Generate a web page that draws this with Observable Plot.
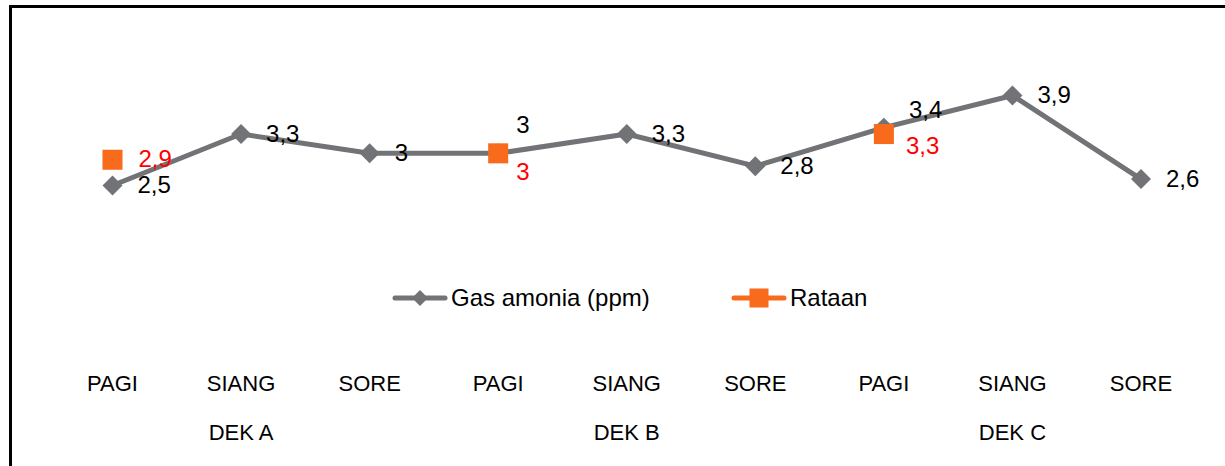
<!DOCTYPE html>
<html>
<head>
<meta charset="utf-8">
<script src="https://cdn.jsdelivr.net/npm/d3@7"></script>
<script src="https://cdn.jsdelivr.net/npm/@observablehq/plot@0.6"></script>
<style>
  body { margin: 0; background: #fff; }
  #wrap { position: relative; width: 1225px; height: 466px; overflow: hidden; font-family: "Liberation Sans", Arial, sans-serif; }
  #frame { position: absolute; left: 9px; top: 5px; right: -10px; bottom: -10px; border-left: 3px solid #000; border-top: 3px solid #000; pointer-events: none; }
  .leg { position: absolute; top: 283px; height: 30px; display: flex; align-items: center; font-size: 24px; color: #000; white-space: nowrap; }
  .leg svg { display: block; margin-right: 3px; }
  #chart { position: absolute; left: 0; top: 0; }
</style>
</head>
<body>
<div id="wrap">
  <div id="chart"></div>
  <div id="frame"></div>
  <div class="leg" style="left:392px">
    <svg width="56" height="30"><line x1="3" y1="15" x2="53" y2="15" stroke="#727376" stroke-width="5" stroke-linecap="round"/><path d="M28 7 L36 15 L28 23 L20 15 Z" fill="#727376"/></svg>
    <span>Gas amonia (ppm)</span>
  </div>
  <div class="leg" style="left:731px">
    <svg width="56" height="30"><line x1="3" y1="15" x2="53" y2="15" stroke="#F86A1C" stroke-width="5" stroke-linecap="round"/><rect x="18.5" y="5.5" width="19" height="19" fill="#F86A1C"/></svg>
    <span>Rataan</span>
  </div>
</div>
<script>
const categories = ["PAGI", "SIANG", "SORE", "PAGI", "SIANG", "SORE", "PAGI", "SIANG", "SORE"];
const groups = ["DEK A", "DEK A", "DEK A", "DEK B", "DEK B", "DEK B", "DEK C", "DEK C", "DEK C"];
const gasAmonia = [2.5, 3.3, 3.0, 3.0, 3.3, 2.8, 3.4, 3.9, 2.6];
const rataan = [2.9, null, null, 3.0, null, null, 3.3, null, null];

const GRAY = "#727376", ORANGE = "#F86A1C", RED = "#FF0000";
const fmt = v => String(v).replace(".", ",");

const rows = categories.map((c, i) => ({i, cat: c, group: groups[i], gas: gasAmonia[i], rat: rataan[i]}));
const ratRows = rows.filter(d => d.rat != null);
const groupTicks = rows.filter(d => d.cat === "SIANG").map(d => d.i);

const labelFont = {fontSize: 24, textAnchor: "start", lineAnchor: "middle"};

const chart = Plot.plot({
  width: 1225,
  height: 466,
  marginTop: 56.4,
  marginBottom: 120.3,
  marginLeft: 0,
  marginRight: 0,
  style: {fontFamily: "'Liberation Sans', Arial, sans-serif", background: "transparent", color: "#000"},
  x: {type: "point", domain: rows.map(d => d.i), range: [112, 1140.5], padding: 0, round: false, label: null},
  y: {domain: [0, 4.5], axis: null},
  marks: [
    Plot.axisX({tickSize: 0, tickPadding: 28.7, tickFormat: i => categories[i], fontSize: 22, label: null}),
    Plot.axisX(groupTicks, {tickSize: 0, tickPadding: 78, tickFormat: i => groups[i], fontSize: 22, label: null}),
    Plot.line(rows, {x: "i", y: "gas", stroke: GRAY, strokeWidth: 5}),
    Plot.dot(rows, {x: "i", y: "gas", symbol: "diamond2", r: 9, fill: GRAY}),
    Plot.dot(ratRows, {x: "i", y: "rat", symbol: "square", r: 11.3, fill: ORANGE}),
    // gray value labels
    Plot.text(rows.filter(d => d.i !== 3 && d.i !== 6), {x: "i", y: "gas", text: d => fmt(d.gas), fill: "#000", dx: 25, ...labelFont}),
    Plot.text(rows.filter(d => d.i === 3), {x: "i", y: "gas", text: d => fmt(d.gas), fill: "#000", dx: 18, dy: -28, ...labelFont}),
    Plot.text(rows.filter(d => d.i === 6), {x: "i", y: "gas", text: d => fmt(d.gas), fill: "#000", dx: 25, dy: -17, ...labelFont}),
    // red average labels
    Plot.text(ratRows.filter(d => d.i === 0), {x: "i", y: "rat", text: d => fmt(d.rat), fill: RED, dx: 26, ...labelFont}),
    Plot.text(ratRows.filter(d => d.i === 3), {x: "i", y: "rat", text: d => fmt(d.rat), fill: RED, dx: 18, dy: 19, ...labelFont}),
    Plot.text(ratRows.filter(d => d.i === 6), {x: "i", y: "rat", text: d => fmt(d.rat), fill: RED, dx: 22, dy: 12, ...labelFont})
  ]
});
document.getElementById("chart").appendChild(chart);
</script>
</body>
</html>
